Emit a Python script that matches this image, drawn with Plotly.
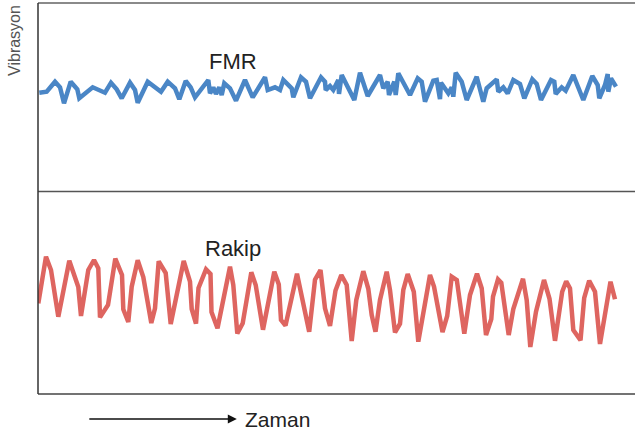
import plotly.graph_objects as go

# ---- data (time in arbitrary units, vibration amplitude in arbitrary units) ----
fmr_t = [1.3, 8.7, 17, 22, 26, 32.7, 39.3, 41.3, 54.7, 67, 73, 78.7, 83.7, 92, 97, 99.7,
         109.7, 123, 129.7, 137, 141.3, 147.7, 152.7, 157, 170.3, 172, 175.3, 178, 181.3,
         183.7, 186.3, 192, 198, 207, 214.7, 227, 229.7, 237, 242, 245.3, 253.7, 255.3,
         263, 268, 272, 283, 287, 287.7, 292, 295.3, 300.3, 301, 303.7, 316.3, 322, 329.7,
         342, 345.3, 349.7, 351, 356.3, 357.7, 360.3, 372, 379.7, 383.7, 387, 392, 395.3,
         398.7, 400.3, 402, 403, 410.3, 413.7, 415.3, 417.7, 423.7, 428.7, 438.7, 445.3,
         448.7, 458.7, 460.3, 465.3, 469.7, 475.3, 482, 486.3, 494.3, 498.7, 503, 513,
         516.3, 517.7, 523.7, 527.7, 535.3, 545.3, 554.3, 559.7, 561.3, 567, 569.7, 570.3,
         573, 578]
fmr_v = [301.3, 302.3, 312.3, 306.7, 290.7, 312.3, 304.7, 295.7, 306.7, 301.3, 311.3, 304.7,
         295.7, 311.3, 304, 291.3, 312.3, 302.3, 312.3, 305.7, 294.7, 313, 306.7, 296.7, 314,
         300.7, 306.7, 300, 306.7, 299, 310.7, 305.7, 293.3, 314, 296.7, 316.7, 304, 306.7,
         304, 314, 305.7, 296.7, 316.7, 312.3, 295.7, 316.7, 312.3, 304, 308, 304, 314, 300,
         319, 294, 321.3, 298, 319, 305.7, 312.3, 299, 312.3, 299, 320.7, 299, 315.7, 312.3,
         292.3, 305.7, 313.3, 314, 305.7, 295, 311.3, 300.7, 306.7, 297.3, 321.3, 312.3, 294,
         317.3, 292.3, 305.7, 314.7, 302.3, 306.7, 300.7, 314, 310, 295.7, 314.7, 310, 294,
         314, 312.3, 300, 306.7, 303.3, 319, 294, 318, 309, 295.7, 309, 320, 302.3, 315.7,
         307.3]

rakip_t = [0.3, 8, 13, 20.3, 31.3, 40.3, 43, 50.3, 56, 60.3, 62, 70, 77.3, 84, 85.3, 90.3,
           93.7, 99.7, 105.3, 113.3, 117, 120.7, 127.7, 132.7, 145.7, 152, 153.7, 158, 160.5,
           168, 172.5, 173.5, 179.5, 192, 195.3, 199.3, 204.7, 213.3, 217.7, 225, 236.3,
           240.8, 243, 247.5, 259, 271.2, 277, 282.5, 287, 292, 297.5, 303.3, 308.7, 313.7,
           318.3, 325.3, 330.3, 333.7, 337.5, 342, 348.7, 352, 357, 362, 365.3, 369.7, 375.8,
           380.3, 392, 396, 404.5, 409.2, 413.7, 418.8, 426.3, 432, 439, 443.7, 448, 453.3,
           455, 460, 463.3, 470.7, 475.3, 485, 488.7, 492.3, 498, 506, 511.5, 517, 524.2,
           528.2, 532, 535.3, 542.5, 546.2, 551.2, 557, 562, 572.5, 577]
rakip_v = [90.7, 137.3, 124, 77.3, 133.3, 107, 78, 124, 134, 125.7, 76.7, 89, 135.3, 119,
           84.7, 72, 107.3, 133.7, 117, 71, 85.7, 132.7, 121, 70, 133, 112.3, 85, 70.3, 106,
           124.7, 120, 82, 65.7, 127.3, 109, 60.5, 70.7, 121.7, 109, 64.3, 122.3, 109.5, 74,
           68.5, 120.3, 62.3, 114.3, 124, 85.7, 68, 103.5, 119, 109, 53, 94, 122.8, 105.2, 79,
           62.3, 94, 122.3, 104, 61.5, 70.3, 104, 120, 102.3, 52.3, 119, 107.5, 62, 78, 117.3,
           114, 60.3, 99, 120.3, 105.7, 59, 75, 97.3, 114.7, 111.3, 59, 85, 115.2, 94, 47,
           82.3, 114, 95.2, 53.2, 102.3, 112.8, 105.7, 64, 53.7, 96.2, 113.3, 102.3, 50,
           112.3, 94.7]

series_labels = ["FMR", "Rakip"]
y_title = "Vibrasyon"
x_title = "Zaman"
divider_level = 202.5

BLUE = "#4a86c6"
RED = "#de6560"
FONT = "Liberation Sans, Arial, Helvetica, sans-serif"

fig = go.Figure()
fig.add_trace(go.Scatter(x=fmr_t, y=fmr_v, mode="lines", name=series_labels[0],
                         line=dict(color=BLUE, width=4.5), hoverinfo="skip"))
fig.add_trace(go.Scatter(x=rakip_t, y=rakip_v, mode="lines", name=series_labels[1],
                         line=dict(color=RED, width=4.5), hoverinfo="skip"))

fig.update_layout(
    width=635, height=438,
    margin=dict(l=38, r=0, t=3, b=44),
    paper_bgcolor="white", plot_bgcolor="white",
    showlegend=False,
    xaxis=dict(range=[0, 597], visible=False, fixedrange=True),
    yaxis=dict(range=[0, 391], visible=False, fixedrange=True),
    font=dict(family=FONT),
)

# frame lines
fig.add_shape(type="line", xref="paper", yref="paper", x0=0, x1=1, y0=1, y1=1,
              line=dict(color="#8a8a8a", width=2))
fig.add_shape(type="line", xref="paper", yref="paper", x0=0, x1=1, y0=0, y1=0,
              line=dict(color="#444444", width=1.5))
fig.add_shape(type="line", xref="paper", yref="y", x0=0, x1=1, y0=divider_level, y1=divider_level,
              line=dict(color="#555555", width=1.5))
fig.add_shape(type="line", xref="paper", yref="paper", x0=0, x1=0, y0=0, y1=1,
              line=dict(color="#333333", width=1.5))

# labels
fig.add_annotation(x=195, y=333, xref="x", yref="y", text=series_labels[0], showarrow=False,
                   xanchor="center", yanchor="middle",
                   font=dict(size=22, color="#222222"))
fig.add_annotation(x=195, y=146, xref="x", yref="y", text=series_labels[1], showarrow=False,
                   xanchor="center", yanchor="middle",
                   font=dict(size=22, color="#222222"))
fig.add_annotation(x=-0.0385, y=0.903, xref="paper", yref="paper", text=y_title,
                   textangle=-90, showarrow=False, xanchor="center", yanchor="middle",
                   font=dict(size=16, color="#555555"))
fig.add_annotation(x=0.402, y=-0.064, xref="paper", yref="paper", text=x_title,
                   showarrow=False, xanchor="center", yanchor="middle",
                   font=dict(size=21, color="#222222"))
fig.add_annotation(x=0.333, y=-0.064, xref="paper", yref="paper", text="",
                   showarrow=True, ax=-149, ay=0, arrowhead=2, arrowsize=1.2,
                   arrowwidth=1.5, arrowcolor="#111111")

fig.write_html("out.html",
               config={"displayModeBar": False, "staticPlot": True},
               post_script="document.body.style.margin='0';document.body.style.padding='0';")
